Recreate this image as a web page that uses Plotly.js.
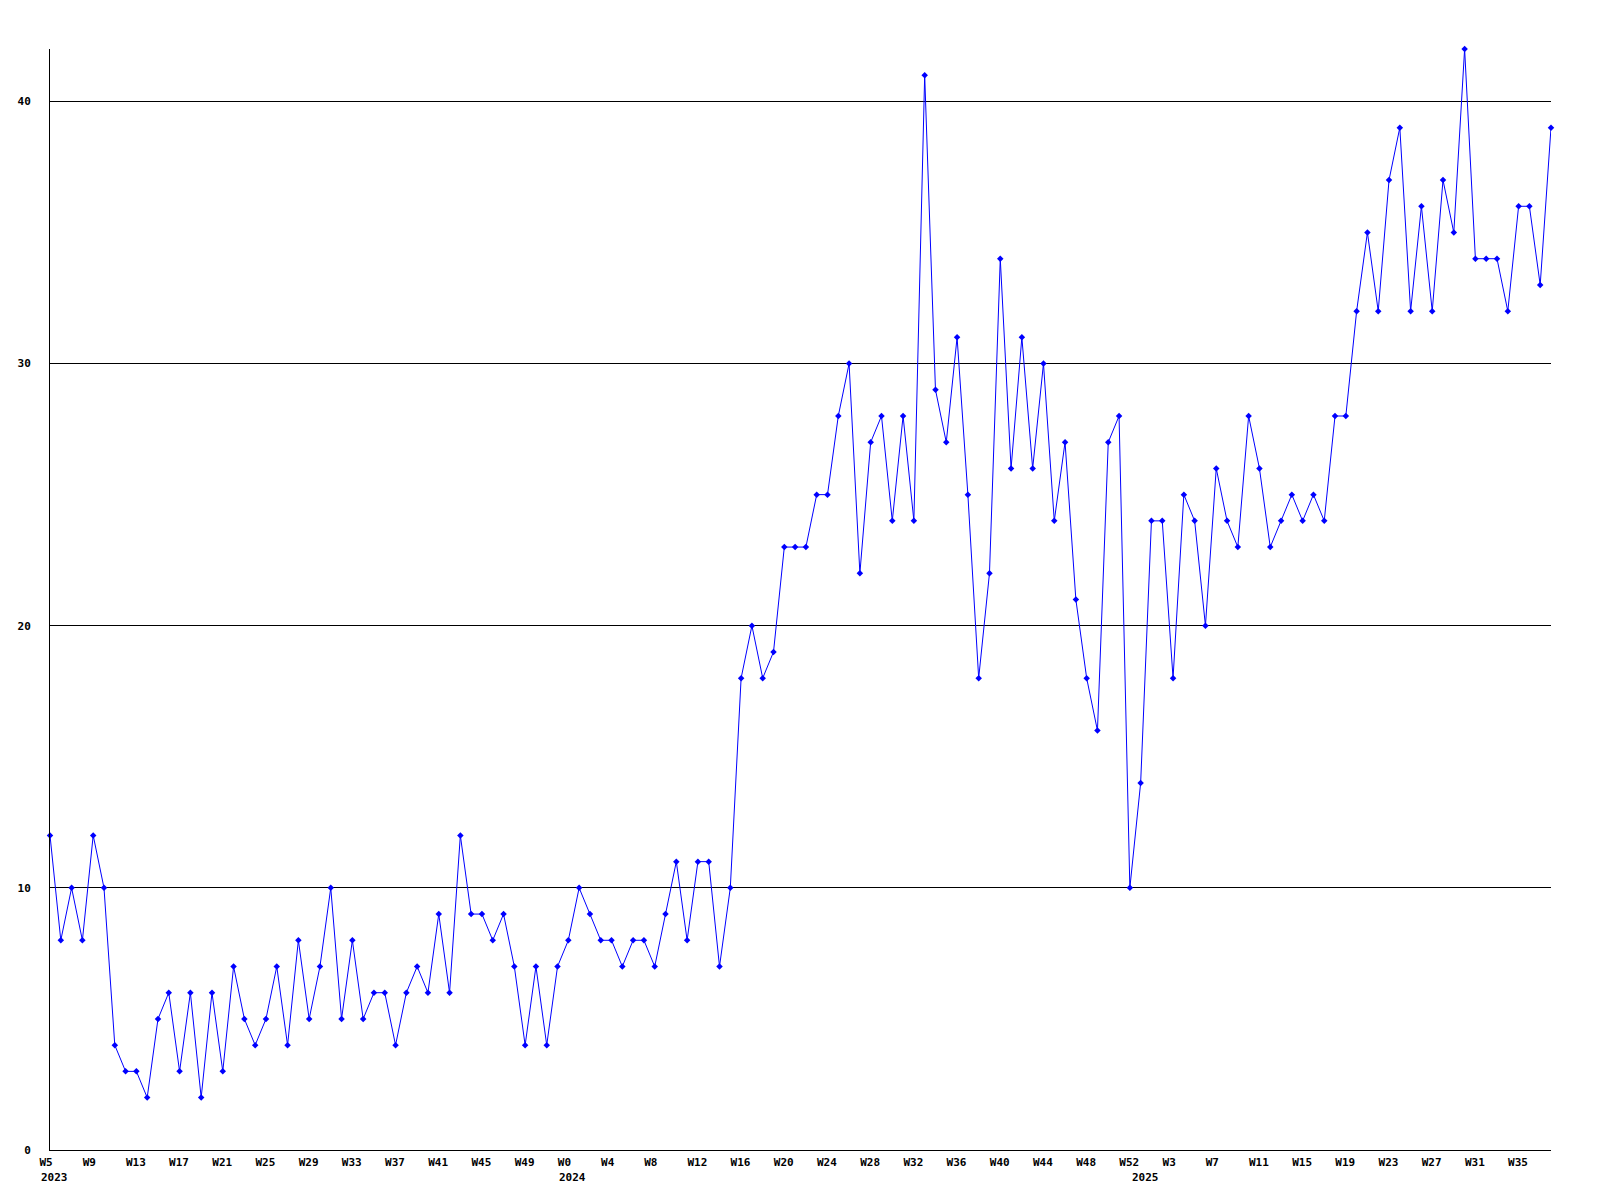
<!DOCTYPE html>
<html>
<head>
<meta charset="utf-8">
<script src="https://cdn.plot.ly/plotly-3.0.1.min.js"></script>
<style>html,body{margin:0;padding:0;background:#fff;}#chart{width:1600px;height:1200px;}</style>
</head>
<body>
<div id="chart"></div>
<script>
// Weekly counts, first point = 2023 W5, last point = 2025 W38
const values = [
  12, 8, 10, 8, 12, 10, 4, 3, 3, 2,
  5, 6, 3, 6, 2, 6, 3, 7, 5, 4,
  5, 7, 4, 8, 5, 7, 10, 5, 8, 5,
  6, 6, 4, 6, 7, 6, 9, 6, 12, 9,
  9, 8, 9, 7, 4, 7, 4, 7, 8, 10,
  9, 8, 8, 7, 8, 8, 7, 9, 11, 8,
  11, 11, 7, 10, 18, 20, 18, 19, 23, 23,
  23, 25, 25, 28, 30, 22, 27, 28, 24, 28,
  24, 41, 29, 27, 31, 25, 18, 22, 34, 26,
  31, 26, 30, 24, 27, 21, 18, 16, 27, 28,
  10, 14, 24, 24, 18, 25, 24, 20, 26, 24,
  23, 28, 26, 23, 24, 25, 24, 25, 24, 28,
  28, 32, 35, 32, 37, 39, 32, 36, 32, 37,
  35, 42, 34, 34, 34, 32, 36, 36, 33, 39
];

// Week tick labels, one every 4 points
const weekTicks = [
  'W5','W9','W13','W17','W21','W25','W29','W33','W37','W41','W45','W49',
  'W0','W4','W8','W12','W16','W20','W24','W28','W32','W36','W40','W44','W48','W52',
  'W3','W7','W11','W15','W19','W23','W27','W31','W35'
];
const tickStep = 4;

// Year labels and the point index where each year starts
const yearLabels = ['2023', '2024', '2025'];
const yearStartIndex = [0, 48, 101];

const yTicks = [0, 10, 20, 30, 40];

const xs = values.map((_, i) => i);
const tickVals = weekTicks.map((_, k) => k * tickStep);

const labelFont = {family: 'DejaVu Sans Mono, Liberation Mono, monospace', size: 11, color: '#000'};

const trace = {
  x: xs,
  y: values,
  type: 'scatter',
  mode: 'lines+markers',
  line: {color: '#0000ff', width: 1},
  marker: {color: '#0000ff', symbol: 'diamond', size: 5},
  cliponaxis: false,
  hoverinfo: 'skip'
};

const layout = {
  width: 1600,
  height: 1200,
  paper_bgcolor: '#ffffff',
  plot_bgcolor: '#ffffff',
  showlegend: false,
  margin: {l: 50, r: 49, t: 49, b: 50, pad: 0},
  font: labelFont,
  xaxis: {
    range: [0, values.length - 1],
    tickmode: 'array',
    tickvals: tickVals,
    ticktext: weekTicks,
    ticks: '',
    showgrid: false,
    zeroline: false,
    showline: true,
    linecolor: '#000',
    linewidth: 1,
    ticklabelposition: 'outside right',
    ticklabelshift: -11,
    ticklabelstandoff: 2,
    tickfont: {family: labelFont.family, size: 11, color: '#000', weight: 'bold'},
    fixedrange: true
  },
  yaxis: {
    range: [0, 42],
    tickmode: 'array',
    tickvals: yTicks,
    ticktext: yTicks.map(String),
    ticks: '',
    showgrid: true,
    gridcolor: '#000',
    gridwidth: 1,
    zeroline: false,
    showline: true,
    linecolor: '#000',
    linewidth: 1,
    ticklabelstandoff: 16,
    tickfont: {family: labelFont.family, size: 11, color: '#000', weight: 'bold'},
    fixedrange: true
  },
  annotations: yearLabels.map((t, k) => ({
    x: yearStartIndex[k],
    xref: 'x',
    y: 0,
    yref: 'paper',
    text: t,
    showarrow: false,
    xanchor: 'left',
    yanchor: 'top',
    xshift: -11,
    yshift: -19,
    font: {family: labelFont.family, size: 11, color: '#000', weight: 'bold'}
  }))
};

Plotly.newPlot('chart', [trace], layout, {staticPlot: true, displayModeBar: false});
</script>
</body>
</html>
